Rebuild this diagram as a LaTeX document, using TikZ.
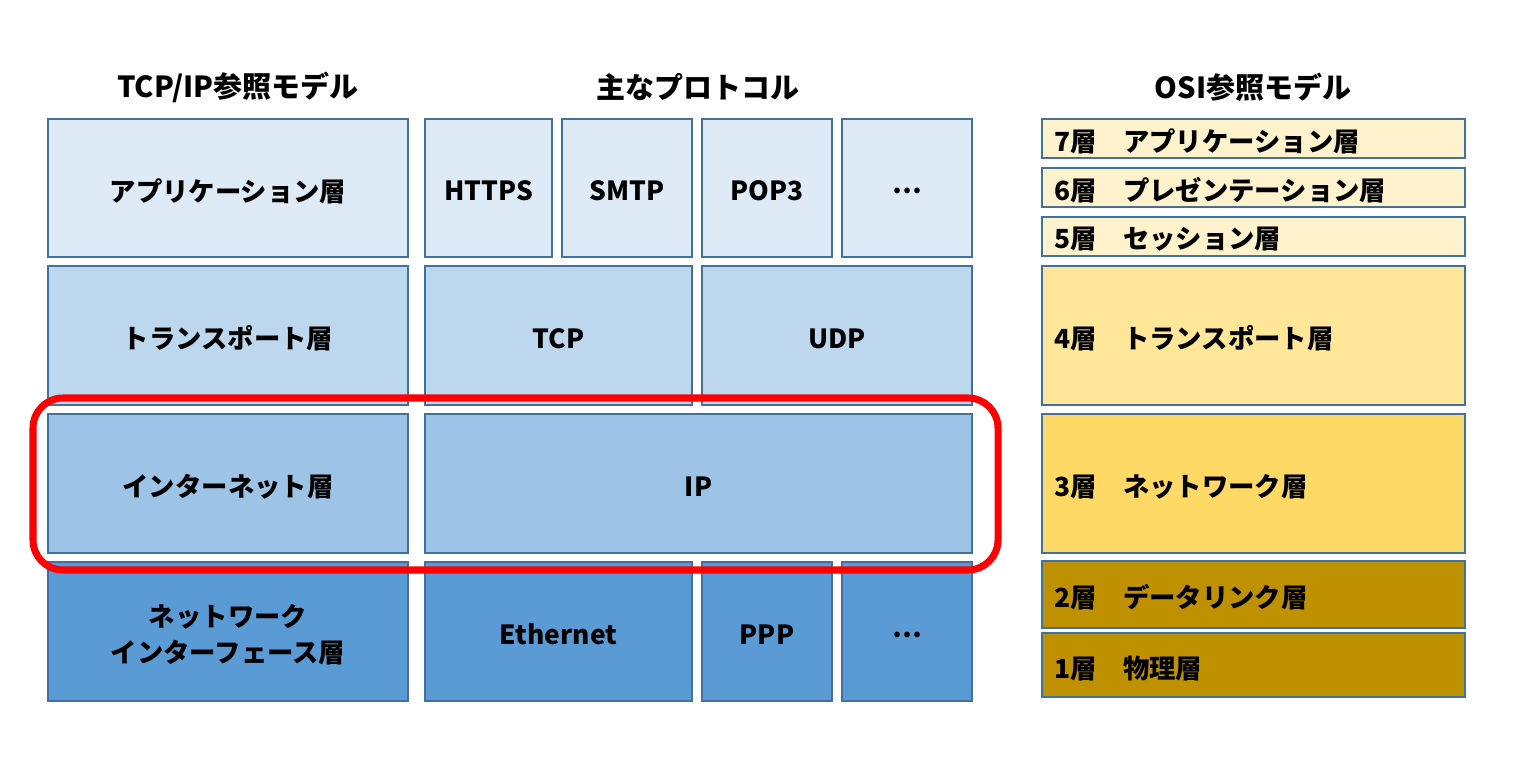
\documentclass[tikz,border=0pt]{standalone}
\usepackage{fontspec}
\setmainfont{Noto Sans CJK JP}
\definecolor{bd}{HTML}{41719C}
\definecolor{c1}{HTML}{DEEAF6}
\definecolor{c2}{HTML}{BDD7EE}
\definecolor{c3}{HTML}{9DC3E6}
\definecolor{c4}{HTML}{5B9BD5}
\definecolor{o1}{HTML}{FFF2CC}
\definecolor{o2}{HTML}{FFE699}
\definecolor{o3}{HTML}{FFD966}
\definecolor{o4}{HTML}{BF9000}
\definecolor{hl}{HTML}{FF0000}
\newcommand\bx[7]{\node[box,fill=#6,minimum width={(#4-#2)*0.02cm},minimum height={(#5-#3)*0.02cm},label={[txt]center:#7}] (#1) at ({(#2+#4)/2},{(#3+#5)/2}) {};}
\begin{document}
\begin{tikzpicture}[x=0.02cm,y=-0.02cm,
  box/.style={draw=bd,line width=1.1pt,inner sep=0pt},
  txt/.style={inner sep=0pt,align=center,yshift=-0.06cm,font=\fontsize{15}{20.5}\selectfont\bfseries},
  head/.style={font=\fontsize{16.5}{20}\selectfont\bfseries},
  osil/.style={anchor=west,inner sep=0pt,yshift=-0.06cm,font=\fontsize{15}{18}\selectfont\bfseries},
  hlbox/.style={draw=hl,line width=4pt,rounded corners=0.6cm}]
\useasboundingbox (0,0) rectangle (1517,764);
\node[head] (h1) at (238,87) {TCP/IP参照モデル};
\node[head] (h2) at (698,87) {主なプロトコル};
\node[head] (h3) at (1253,87) {OSI参照モデル};
% left
\bx{app}{48}{119}{408}{257}{c1}{アプリケーション層}
\bx{trn}{48}{266}{408}{405}{c2}{トランスポート層}
\bx{inet}{48}{414}{408}{553}{c3}{インターネット層}
\bx{nif}{48}{562}{408}{701}{c4}{ネットワーク\\インターフェース層}
% protocols
\bx{https}{425}{119}{552}{257}{c1}{HTTPS}
\bx{smtp}{562}{119}{692}{257}{c1}{SMTP}
\bx{pop}{702}{119}{832}{257}{c1}{POP3}
\bx{etc1}{842}{119}{972}{257}{c1}{…}
\bx{tcp}{425}{266}{692}{405}{c2}{TCP}
\bx{udp}{702}{266}{972}{405}{c2}{UDP}
\bx{ip}{425}{414}{972}{553}{c3}{IP}
\bx{eth}{425}{562}{692}{701}{c4}{Ethernet}
\bx{ppp}{702}{562}{832}{701}{c4}{PPP}
\bx{etc2}{842}{562}{972}{701}{c4}{…}
% OSI
\bx{o7}{1042}{119}{1465}{158}{o1}{}
\bx{o6}{1042}{168}{1465}{207}{o1}{}
\bx{o5}{1042}{217}{1465}{256}{o1}{}
\bx{o4}{1042}{266}{1465}{405}{o2}{}
\bx{o3}{1042}{414}{1465}{553}{o3}{}
\bx{o2}{1042}{561}{1465}{628}{o4}{}
\bx{o1}{1042}{633}{1465}{697}{o4}{}
\node[osil] (t7) at ([xshift=13*0.02cm]o7.west) {7層　アプリケーション層};
\node[osil] (t6) at ([xshift=13*0.02cm]o6.west) {6層　プレゼンテーション層};
\node[osil] (t5) at ([xshift=13*0.02cm]o5.west) {5層　セッション層};
\node[osil] (t4) at ([xshift=13*0.02cm]o4.west) {4層　トランスポート層};
\node[osil] (t3) at ([xshift=13*0.02cm]o3.west) {3層　ネットワーク層};
\node[osil] (t2) at ([xshift=13*0.02cm]o2.west) {2層　データリンク層};
\node[osil] (t1) at ([xshift=13*0.02cm]o1.west) {1層　物理層};
% highlight
\draw[hlbox] (33,398) rectangle (998,570);
\end{tikzpicture}
\end{document}
